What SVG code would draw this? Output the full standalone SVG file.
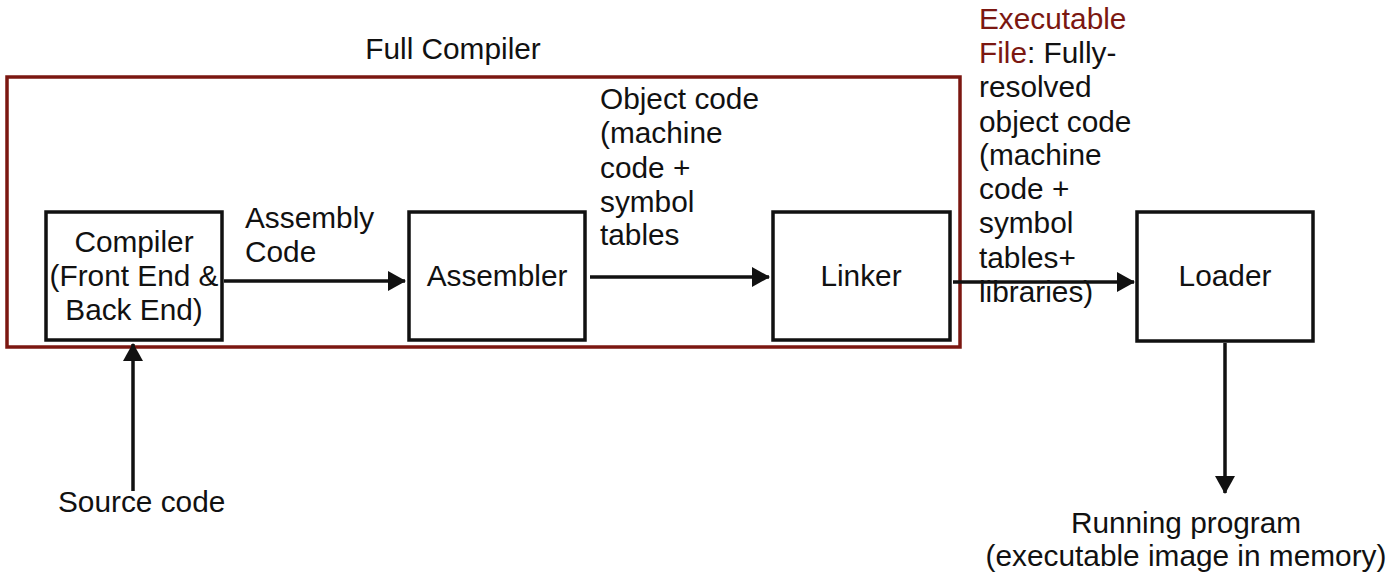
<svg xmlns="http://www.w3.org/2000/svg" width="1388" height="583" viewBox="0 0 1388 583">
<defs>
<style>
text{font-family:"Liberation Sans",Arial,sans-serif;font-size:29.8px;fill:#111}
.c{text-anchor:middle}
.red{fill:#7b1711}
.box{fill:#fff;stroke:#111;stroke-width:3.5}
.edge{stroke:#111;stroke-width:3.5;fill:none}
</style>
<marker id="ah" viewBox="0 0 18 20" refX="17" refY="10" markerWidth="18" markerHeight="20" orient="auto" markerUnits="userSpaceOnUse">
<path d="M0,0 L18,10 L0,20 z" fill="#111"/>
</marker>
</defs>
<rect width="1388" height="583" fill="#fff"/>
<g id="full-compiler">
<rect x="7" y="77" width="953" height="270" fill="none" stroke="#7b1711" stroke-width="3.5"/>
<text class="c" x="453" y="59">Full Compiler</text>
</g>
<g id="compiler">
<rect class="box" x="46" y="212" width="176" height="128"/>
<text class="c" x="134" y="252">Compiler</text>
<text class="c" x="134" y="286">(Front End &amp;</text>
<text class="c" x="134" y="320">Back End)</text>
</g>
<g id="assembler">
<rect class="box" x="409" y="212" width="176" height="128"/>
<text class="c" x="497" y="286">Assembler</text>
</g>
<g id="linker">
<rect class="box" x="773" y="212" width="177" height="128"/>
<text class="c" x="861" y="286">Linker</text>
</g>
<g id="loader">
<rect class="box" x="1137" y="212" width="176" height="129"/>
<text class="c" x="1225" y="286">Loader</text>
</g>
<g id="connectors">
<line class="edge" x1="224" y1="281" x2="405" y2="281" marker-end="url(#ah)"/>
<line class="edge" x1="590" y1="277" x2="769" y2="277" marker-end="url(#ah)"/>
<line class="edge" x1="953" y1="282" x2="1134" y2="282" marker-end="url(#ah)"/>
<line class="edge" x1="1225" y1="343" x2="1225" y2="493" marker-end="url(#ah)"/>
<line class="edge" x1="133" y1="491" x2="133" y2="344" marker-end="url(#ah)"/>
</g>
<g id="labels">
<text x="245" y="228">Assembly</text>
<text x="245" y="262">Code</text>
<text x="600" y="109">Object code</text>
<text x="600" y="143">(machine</text>
<text x="600" y="178">code +</text>
<text x="600" y="212">symbol</text>
<text x="600" y="245">tables</text>
<text x="979" y="29" class="red">Executable</text>
<text x="979" y="63"><tspan class="red">File</tspan>: Fully-</text>
<text x="979" y="97">resolved</text>
<text x="979" y="132">object code</text>
<text x="979" y="165">(machine</text>
<text x="979" y="199">code +</text>
<text x="979" y="233">symbol</text>
<text x="979" y="268">tables+</text>
<text x="979" y="302">libraries)</text>
<text x="58" y="512">Source code</text>
<text class="c" x="1186" y="533">Running program</text>
<text class="c" x="1186" y="566">(executable image in memory)</text>
</g>
</svg>
